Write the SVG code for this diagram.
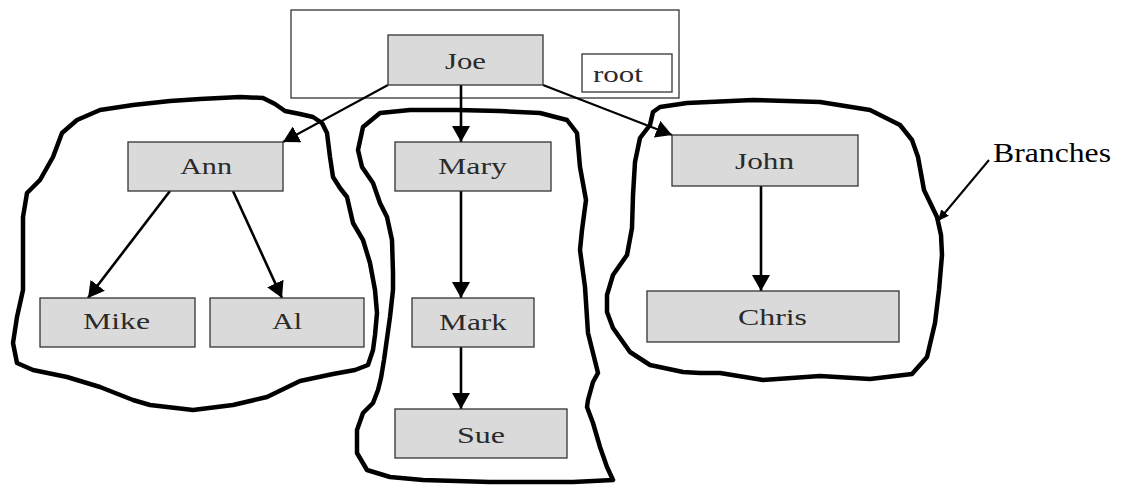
<svg xmlns="http://www.w3.org/2000/svg" width="1127" height="486" viewBox="0 0 1127 486">
  <style>
    .box { fill: #dadada; stroke: #333; stroke-width: 1.3; }
    .frame { fill: #fff; stroke: #333; stroke-width: 1.3; }
    .lbl { font-family: "Liberation Serif", "Times New Roman", serif; font-size: 23px; fill: #2a2a2a; }
    .edge { stroke: #000; stroke-width: 2.6; fill: none; marker-end: url(#head); }
    .thin { stroke: #000; stroke-width: 2; fill: none; marker-end: url(#head); }
    .blob { fill: none; stroke: #000; stroke-width: 4.5; stroke-linejoin: round; }
  </style>
  <defs>
    <marker id="head" markerUnits="userSpaceOnUse" markerWidth="17" markerHeight="18" refX="16" refY="9" orient="auto">
      <path d="M0,0 L16,9 L0,18 Z" fill="#000"/>
    </marker>
    <marker id="smallhead" markerUnits="userSpaceOnUse" markerWidth="12" markerHeight="10" refX="11" refY="5" orient="auto">
      <path d="M0,0 L11,5 L0,10 Z" fill="#000"/>
    </marker>
  </defs>
  <rect width="1127" height="486" fill="#fff"/>

  <!-- root frame -->
  <g id="root-frame">
    <rect class="frame" x="291" y="10" width="388" height="88"/>
    <rect class="frame" x="582" y="54" width="90" height="38"/>
    <text class="lbl" x="593" y="82" textLength="50" lengthAdjust="spacingAndGlyphs" fill="#111">root</text>
  </g>

  <!-- branch outlines -->
  <g id="branches">
    <path class="blob" d="M133,105 L170,101 L200,99 L240,97 L263,98 L275,104 L285,111 L300,114 L313,117 L322,123 L327,133 L330,157 L333,177 L340,188 L347,197 L353,223 L363,240 L370,263 L375,290 L377,313 L375,335 L373,350 L368,365 L355,370 L333,374 L300,381 L267,397 L233,405 L193,410 L150,405 L133,400 L100,387 L67,377 L33,370 L17,363 L13,343 L17,317 L23,290 L23,257 L23,217 L27,193 L40,180 L53,157 L62,133 L77,120 L100,110 Z"/>
    <path class="blob" d="M410,110 L457,110 L500,111 L540,113 L567,120 L577,133 L580,167 L586,200 L582,230 L580,250 L585,287 L588,333 L598,373 L593,382 L588,400 L587,407 L593,423 L600,447 L607,467 L613,480 L573,482 L490,482 L423,480 L390,477 L367,470 L357,453 L357,430 L363,413 L373,403 L378,390 L381,378 L384,360 L390,317 L393,290 L393,273 L392,240 L387,217 L380,203 L373,183 L362,167 L358,150 L363,127 L380,113 Z"/>
    <path class="blob" d="M653,112 L660,107 L687,103 L753,100 L820,102 L870,110 L900,125 L912,140 L918,157 L924,190 L937,217 L941,235 L942,255 L939,290 L935,323 L927,357 L912,374 L870,379 L820,376 L763,380 L720,373 L700,373 L683,372 L650,365 L630,352 L613,328 L607,312 L607,295 L613,275 L627,255 L632,228 L633,195 L635,162 L640,138 L650,125 Z"/>
  </g>

  <!-- connectors -->
  <g id="connectors">
    <line class="thin" x1="388" y1="85" x2="283" y2="142"/>
    <line class="edge" x1="461" y1="85" x2="461" y2="142"/>
    <line class="thin" x1="543" y1="85" x2="672" y2="135"/>
    <line class="edge" x1="170" y1="191" x2="88" y2="298"/>
    <line class="edge" x1="233" y1="191" x2="282" y2="298"/>
    <line class="edge" x1="461" y1="191" x2="461" y2="298"/>
    <line class="edge" x1="461" y1="347" x2="461" y2="409"/>
    <line class="edge" x1="761" y1="186" x2="761" y2="291"/>
    <line x1="989" y1="160" x2="938" y2="221" stroke="#000" stroke-width="2" marker-end="url(#smallhead)"/>
  </g>

  <!-- nodes -->
  <g id="node-joe">
    <rect class="box" x="388" y="35" width="155" height="50"/>
    <text class="lbl" x="445" y="69" textLength="41" lengthAdjust="spacingAndGlyphs">Joe</text>
  </g>
  <g id="node-ann">
    <rect class="box" x="128" y="142" width="155" height="49"/>
    <text class="lbl" x="180" y="174" textLength="52" lengthAdjust="spacingAndGlyphs">Ann</text>
  </g>
  <g id="node-mary">
    <rect class="box" x="395" y="142" width="156" height="49"/>
    <text class="lbl" x="438" y="174" textLength="69" lengthAdjust="spacingAndGlyphs">Mary</text>
  </g>
  <g id="node-john">
    <rect class="box" x="672" y="135" width="186" height="51"/>
    <text class="lbl" x="735" y="169" textLength="59" lengthAdjust="spacingAndGlyphs">John</text>
  </g>
  <g id="node-mike">
    <rect class="box" x="40" y="298" width="155" height="49"/>
    <text class="lbl" x="83" y="329" textLength="67" lengthAdjust="spacingAndGlyphs">Mike</text>
  </g>
  <g id="node-al">
    <rect class="box" x="210" y="298" width="154" height="49"/>
    <text class="lbl" x="272" y="329" textLength="30" lengthAdjust="spacingAndGlyphs">Al</text>
  </g>
  <g id="node-mark">
    <rect class="box" x="412" y="298" width="122" height="49"/>
    <text class="lbl" x="439" y="330" textLength="68" lengthAdjust="spacingAndGlyphs">Mark</text>
  </g>
  <g id="node-chris">
    <rect class="box" x="647" y="291" width="252" height="51"/>
    <text class="lbl" x="738" y="325" textLength="69" lengthAdjust="spacingAndGlyphs">Chris</text>
  </g>
  <g id="node-sue">
    <rect class="box" x="395" y="409" width="172" height="49"/>
    <text class="lbl" x="457" y="443" textLength="48" lengthAdjust="spacingAndGlyphs">Sue</text>
  </g>

  <!-- callout label -->
  <text x="993" y="162" font-family="Liberation Serif, Times New Roman, serif" font-size="28" fill="#000" textLength="118" lengthAdjust="spacingAndGlyphs">Branches</text>
</svg>
